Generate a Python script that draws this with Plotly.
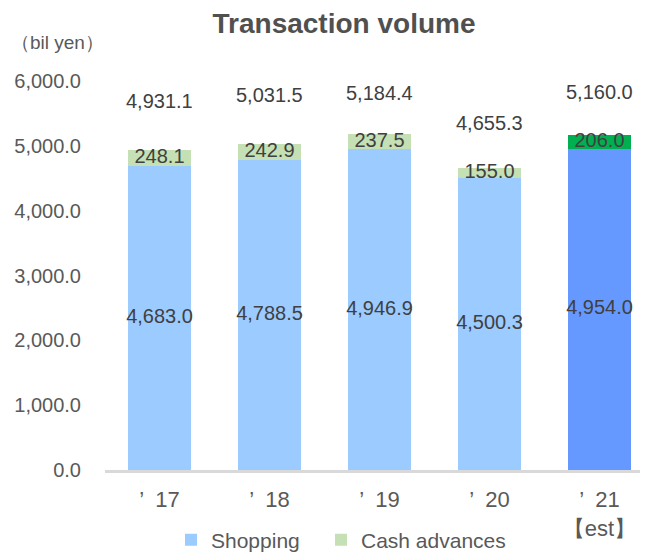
import plotly.graph_objects as go

categories = ["’\u200217", "’\u200218", "’\u200219", "’\u200220", "’\u200221<br>【est】"]
shopping = [4683.0, 4788.5, 4946.9, 4500.3, 4954.0]
cash = [248.1, 242.9, 237.5, 155.0, 206.0]
totals = [4931.1, 5031.5, 5184.4, 4655.3, 5160.0]
y_ticks = [0, 1000, 2000, 3000, 4000, 5000, 6000]

shop_colors = ["#9BCBFF"] * 4 + ["#6699FF"]
cash_colors = ["#C5E0B4"] * 4 + ["#00B050"]
total_shift = [49, 49, 41, 45, 43]

SANS = "Liberation Sans, Arial, sans-serif"
DARK = "#404040"
GRAY = "#595959"

# page body has an 8px margin, so figure coords = screen coords - 8
W, H = 643, 545
L, R, T, B = 97, 11, 73, 83
PW, PH = W - L - R, H - T - B
OFF = 8


def px_x(sx):
    return (sx - OFF - L) / PW


def px_y(sy):
    return (H - B - (sy - OFF)) / PH


x = list(range(len(categories)))
fig = go.Figure()
fig.add_trace(go.Bar(x=x, y=shopping, name="Shopping",
                     marker=dict(color=shop_colors, line=dict(width=0)),
                     width=0.573, hoverinfo="skip", legend="legend"))
fig.add_trace(go.Bar(x=x, y=cash, name="Cash advances",
                     marker=dict(color=cash_colors, line=dict(width=0)),
                     width=0.573, hoverinfo="skip", legend="legend2"))

# segment labels
fig.add_trace(go.Scatter(x=x, y=[s / 2 for s in shopping], mode="text",
                         text=[f"{v:,.1f}" for v in shopping], showlegend=False,
                         textfont=dict(size=20, color=DARK, family=SANS), hoverinfo="skip"))
fig.add_trace(go.Scatter(x=x, y=[s + c / 2 for s, c in zip(shopping, cash)], mode="text",
                         text=[f"{v:,.1f}" for v in cash], showlegend=False,
                         textfont=dict(size=20, color=DARK, family=SANS), hoverinfo="skip"))
# totals
for i, t in enumerate(totals):
    fig.add_annotation(x=x[i], y=t, text=f"{t:,.1f}", showarrow=False, yshift=total_shift[i],
                       font=dict(size=20, color=DARK, family=SANS))

fig.add_annotation(xref="paper", yref="paper", x=px_x(OFF + 1), y=px_y(43),
                   text="（bil yen）", showarrow=False, xanchor="left", yanchor="middle",
                   font=dict(size=19, color=GRAY, family=SANS))

leg_common = dict(orientation="h", xanchor="left", yanchor="middle",
                  y=px_y(540), font=dict(size=21, color=GRAY, family=SANS),
                  itemwidth=30, borderwidth=0, bgcolor="rgba(0,0,0,0)")

fig.update_layout(
    barmode="stack",
    width=W, height=H,
    margin=dict(l=L, r=R, t=T, b=B, pad=0, autoexpand=False),
    paper_bgcolor="white", plot_bgcolor="white",
    font=dict(family=SANS, color=GRAY, size=17),
    title=dict(text="<b>Transaction volume</b>", x=(344 - OFF) / W, xanchor="center",
               y=1 - (23 - OFF) / H, yanchor="middle",
               font=dict(size=28, color="#505050", family=SANS)),
    showlegend=True,
    legend=dict(x=px_x(183 - 12), **leg_common),
    legend2=dict(x=px_x(334 - 13), **leg_common),
)
fig.update_xaxes(range=[-0.4955, 4.368], tickvals=x, ticktext=categories, showgrid=False,
                 showline=True, linecolor="#D9D9D9", linewidth=3, ticks="",
                 ticklabelstandoff=8,
                 tickfont=dict(size=22, color=GRAY, family=SANS), zeroline=False)
fig.update_yaxes(range=[0, 6000], tickvals=y_ticks, ticktext=[f"{v:,.1f}" for v in y_ticks],
                 showgrid=False, zeroline=False, showline=False, ticks="outside", ticklen=19,
                 tickcolor="rgba(0,0,0,0)", tickfont=dict(size=20, color=GRAY, family=SANS))
fig.write_html("out.html")
